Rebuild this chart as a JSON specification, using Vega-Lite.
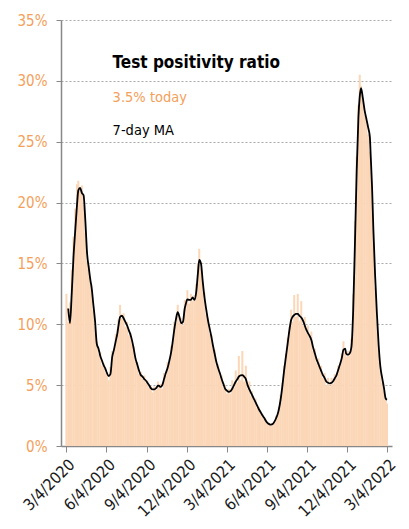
{
  "$schema": "https://vega.github.io/schema/vega-lite/v6.json",
  "width": 331,
  "height": 426,
  "autosize": {"type": "none"},
  "padding": {"top": 20, "left": 61, "right": 17, "bottom": 83},
  "background": "white",
  "config": {
    "view": {"stroke": null},
    "font": "DejaVu Sans Condensed",
    "axis": {"labelFont": "DejaVu Sans Condensed"}
  },
  "data": {"values": [
    {"d":"2020-03-05","v":12.5},
    {"d":"2020-03-09","v":10.2,"m":11.3},
    {"d":"2020-03-13","v":11.8,"m":10.1},
    {"d":"2020-03-17","v":14.5,"m":12.5},
    {"d":"2020-03-21","v":17.2,"m":15.5},
    {"d":"2020-03-25","v":19.5,"m":17.7},
    {"d":"2020-03-29","v":21.5,"m":19.8},
    {"d":"2020-04-01","v":21.8,"m":21.0},
    {"d":"2020-04-05","v":21.2,"m":21.2},
    {"d":"2020-04-09","v":21.4,"m":20.8},
    {"d":"2020-04-13","v":19.8,"m":20.6},
    {"d":"2020-04-17","v":17.5,"m":18.5},
    {"d":"2020-04-21","v":15.2,"m":15.8},
    {"d":"2020-04-25","v":14.8,"m":14.6},
    {"d":"2020-04-29","v":13.2,"m":13.5},
    {"d":"2020-05-01","v":12.5,"m":13.1},
    {"d":"2020-05-05","v":11.2,"m":11.7},
    {"d":"2020-05-09","v":9.8,"m":10.3},
    {"d":"2020-05-13","v":8.6,"m":8.4},
    {"d":"2020-05-17","v":7.6,"m":8.0},
    {"d":"2020-05-21","v":7.7,"m":7.4},
    {"d":"2020-05-25","v":6.6,"m":7.0},
    {"d":"2020-05-29","v":6.8,"m":6.6},
    {"d":"2020-06-01","v":6.0,"m":6.4},
    {"d":"2020-06-05","v":5.9,"m":6.0},
    {"d":"2020-06-09","v":5.4,"m":5.75},
    {"d":"2020-06-13","v":6.5,"m":5.9},
    {"d":"2020-06-17","v":7.8,"m":7.3},
    {"d":"2020-06-21","v":8.0,"m":7.9},
    {"d":"2020-06-25","v":9.2,"m":8.6},
    {"d":"2020-06-29","v":9.6,"m":9.3},
    {"d":"2020-07-01","v":10.4,"m":9.8},
    {"d":"2020-07-05","v":11.6,"m":10.6},
    {"d":"2020-07-09","v":10.5,"m":10.7},
    {"d":"2020-07-13","v":10.9,"m":10.5},
    {"d":"2020-07-17","v":9.8,"m":10.2},
    {"d":"2020-07-21","v":10.2,"m":9.9},
    {"d":"2020-07-25","v":9.1,"m":9.5},
    {"d":"2020-07-29","v":9.3,"m":9.1},
    {"d":"2020-08-01","v":8.4,"m":8.7},
    {"d":"2020-08-05","v":8.2,"m":8.0},
    {"d":"2020-08-09","v":6.9,"m":7.2},
    {"d":"2020-08-13","v":6.9,"m":6.7},
    {"d":"2020-08-17","v":5.9,"m":6.2},
    {"d":"2020-08-21","v":6.1,"m":5.83},
    {"d":"2020-08-25","v":5.5,"m":5.7},
    {"d":"2020-08-29","v":5.8,"m":5.5},
    {"d":"2020-09-01","v":5.2,"m":5.4},
    {"d":"2020-09-05","v":5.4,"m":5.2},
    {"d":"2020-09-09","v":4.8,"m":5.0},
    {"d":"2020-09-13","v":4.9,"m":4.75},
    {"d":"2020-09-17","v":4.4,"m":4.65},
    {"d":"2020-09-21","v":4.9,"m":4.65},
    {"d":"2020-09-25","v":4.6,"m":4.75},
    {"d":"2020-09-29","v":5.3,"m":4.95},
    {"d":"2020-10-01","v":4.8,"m":4.95},
    {"d":"2020-10-05","v":5.1,"m":4.85},
    {"d":"2020-10-09","v":4.7,"m":5.0},
    {"d":"2020-10-13","v":6.0,"m":5.5},
    {"d":"2020-10-17","v":5.8,"m":6.0},
    {"d":"2020-10-21","v":6.9,"m":6.4},
    {"d":"2020-10-25","v":6.8,"m":7.0},
    {"d":"2020-10-29","v":8.2,"m":7.7},
    {"d":"2020-11-01","v":8.3,"m":8.4},
    {"d":"2020-11-05","v":10.2,"m":9.5},
    {"d":"2020-11-09","v":10.1,"m":10.4},
    {"d":"2020-11-13","v":11.6,"m":11.0},
    {"d":"2020-11-17","v":10.2,"m":10.6},
    {"d":"2020-11-21","v":10.5,"m":10.1},
    {"d":"2020-11-25","v":9.9,"m":10.2},
    {"d":"2020-11-29","v":12.0,"m":11.3},
    {"d":"2020-12-01","v":11.2,"m":11.6},
    {"d":"2020-12-05","v":12.8,"m":12.05},
    {"d":"2020-12-09","v":11.7,"m":12.0},
    {"d":"2020-12-13","v":12.5,"m":12.0},
    {"d":"2020-12-17","v":11.9,"m":12.2},
    {"d":"2020-12-21","v":12.4,"m":12.0},
    {"d":"2020-12-25","v":13.3,"m":12.6},
    {"d":"2020-12-29","v":15.0,"m":14.2},
    {"d":"2021-01-01","v":16.2,"m":15.3},
    {"d":"2021-01-05","v":14.6,"m":15.0},
    {"d":"2021-01-09","v":13.2,"m":13.5},
    {"d":"2021-01-13","v":12.6,"m":12.2},
    {"d":"2021-01-17","v":10.8,"m":11.2},
    {"d":"2021-01-21","v":10.5,"m":10.3},
    {"d":"2021-01-25","v":9.2,"m":9.6},
    {"d":"2021-01-29","v":9.1,"m":8.9},
    {"d":"2021-02-01","v":8.0,"m":8.3},
    {"d":"2021-02-05","v":7.9,"m":7.6},
    {"d":"2021-02-09","v":6.6,"m":6.9},
    {"d":"2021-02-13","v":6.7,"m":6.4},
    {"d":"2021-02-17","v":5.7,"m":5.97},
    {"d":"2021-02-21","v":5.8,"m":5.5},
    {"d":"2021-02-25","v":4.8,"m":5.1},
    {"d":"2021-03-01","v":5.0,"m":4.7},
    {"d":"2021-03-05","v":4.3,"m":4.55},
    {"d":"2021-03-09","v":4.7,"m":4.45},
    {"d":"2021-03-13","v":4.3,"m":4.5},
    {"d":"2021-03-17","v":5.4,"m":4.7},
    {"d":"2021-03-21","v":4.8,"m":5.0},
    {"d":"2021-03-25","v":6.2,"m":5.3},
    {"d":"2021-03-29","v":5.2,"m":5.5},
    {"d":"2021-04-01","v":7.4,"m":5.7},
    {"d":"2021-04-05","v":5.4,"m":5.8},
    {"d":"2021-04-09","v":7.8,"m":5.83},
    {"d":"2021-04-13","v":5.3,"m":5.7},
    {"d":"2021-04-17","v":6.6,"m":5.5},
    {"d":"2021-04-21","v":4.7,"m":5.0},
    {"d":"2021-04-25","v":5.3,"m":4.65},
    {"d":"2021-04-29","v":4.1,"m":4.35},
    {"d":"2021-05-01","v":4.5,"m":4.2},
    {"d":"2021-05-05","v":3.7,"m":3.9},
    {"d":"2021-05-09","v":3.9,"m":3.6},
    {"d":"2021-05-13","v":3.1,"m":3.3},
    {"d":"2021-05-17","v":3.2,"m":3.0},
    {"d":"2021-05-21","v":2.6,"m":2.75},
    {"d":"2021-05-25","v":2.6,"m":2.5},
    {"d":"2021-05-29","v":2.2,"m":2.3},
    {"d":"2021-06-01","v":2.2,"m":2.1},
    {"d":"2021-06-05","v":1.8,"m":1.9},
    {"d":"2021-06-09","v":1.9,"m":1.8},
    {"d":"2021-06-13","v":1.7,"m":1.75},
    {"d":"2021-06-17","v":1.9,"m":1.8},
    {"d":"2021-06-21","v":2.0,"m":2.0},
    {"d":"2021-06-25","v":2.5,"m":2.3},
    {"d":"2021-06-29","v":2.8,"m":2.7},
    {"d":"2021-07-01","v":3.2,"m":3.0},
    {"d":"2021-07-05","v":4.2,"m":3.8},
    {"d":"2021-07-09","v":5.2,"m":4.9},
    {"d":"2021-07-13","v":6.6,"m":6.2},
    {"d":"2021-07-17","v":7.6,"m":7.3},
    {"d":"2021-07-21","v":8.9,"m":8.4},
    {"d":"2021-07-25","v":9.8,"m":9.5},
    {"d":"2021-07-29","v":11.2,"m":10.35},
    {"d":"2021-08-01","v":10.2,"m":10.6},
    {"d":"2021-08-05","v":12.4,"m":10.76},
    {"d":"2021-08-09","v":10.6,"m":10.85},
    {"d":"2021-08-13","v":12.5,"m":10.85},
    {"d":"2021-08-17","v":10.3,"m":10.7},
    {"d":"2021-08-21","v":11.9,"m":10.55},
    {"d":"2021-08-25","v":9.9,"m":10.3},
    {"d":"2021-08-29","v":10.6,"m":9.9},
    {"d":"2021-09-01","v":9.3,"m":9.6},
    {"d":"2021-09-05","v":9.9,"m":9.3},
    {"d":"2021-09-09","v":8.8,"m":9.05},
    {"d":"2021-09-13","v":9.4,"m":8.7},
    {"d":"2021-09-17","v":7.8,"m":8.1},
    {"d":"2021-09-21","v":8.0,"m":7.6},
    {"d":"2021-09-25","v":6.8,"m":7.1},
    {"d":"2021-09-29","v":7.2,"m":6.75},
    {"d":"2021-10-01","v":6.3,"m":6.55},
    {"d":"2021-10-05","v":6.6,"m":6.2},
    {"d":"2021-10-09","v":5.6,"m":5.85},
    {"d":"2021-10-13","v":6.0,"m":5.6},
    {"d":"2021-10-17","v":5.0,"m":5.3},
    {"d":"2021-10-21","v":5.6,"m":5.2},
    {"d":"2021-10-25","v":4.9,"m":5.15},
    {"d":"2021-10-29","v":5.6,"m":5.2},
    {"d":"2021-11-01","v":5.1,"m":5.3},
    {"d":"2021-11-05","v":5.9,"m":5.55},
    {"d":"2021-11-09","v":5.6,"m":5.8},
    {"d":"2021-11-13","v":6.6,"m":6.25},
    {"d":"2021-11-17","v":6.5,"m":6.7},
    {"d":"2021-11-21","v":7.6,"m":7.2},
    {"d":"2021-11-25","v":8.6,"m":7.9},
    {"d":"2021-11-29","v":7.7,"m":8.0},
    {"d":"2021-12-01","v":7.3,"m":7.6},
    {"d":"2021-12-05","v":7.8,"m":7.5},
    {"d":"2021-12-09","v":7.4,"m":7.6},
    {"d":"2021-12-13","v":8.8,"m":8.1},
    {"d":"2021-12-17","v":12.5,"m":11.0},
    {"d":"2021-12-21","v":18.5,"m":16.5},
    {"d":"2021-12-25","v":23.8,"m":22.5},
    {"d":"2021-12-29","v":28.0,"m":27.0},
    {"d":"2022-01-01","v":30.5,"m":28.7},
    {"d":"2022-01-04","v":29.6,"m":29.4},
    {"d":"2022-01-08","v":28.4,"m":28.6},
    {"d":"2022-01-12","v":27.2,"m":27.6},
    {"d":"2022-01-16","v":27.0,"m":26.9},
    {"d":"2022-01-20","v":25.6,"m":26.2},
    {"d":"2022-01-24","v":24.2,"m":25.4},
    {"d":"2022-01-26","v":22.6,"m":23.8},
    {"d":"2022-01-29","v":20.2,"m":21.3},
    {"d":"2022-02-01","v":16.8,"m":17.8},
    {"d":"2022-02-05","v":13.0,"m":14.0},
    {"d":"2022-02-09","v":10.2,"m":10.9},
    {"d":"2022-02-13","v":7.6,"m":8.3},
    {"d":"2022-02-17","v":6.2,"m":6.5},
    {"d":"2022-02-21","v":5.2,"m":5.6},
    {"d":"2022-02-25","v":4.5,"m":4.8},
    {"d":"2022-03-01","v":3.8,"m":3.9},
    {"d":"2022-03-04","v":3.5,"m":3.8}
  ]},
  "layer": [
    {
      "mark": {"type": "bar", "width": 2, "color": "#fbd6b7"},
      "encoding": {
        "x": {
          "field": "d", "type": "temporal",
          "scale": {"domain": [{"year": 2020, "month": 3, "date": 4}, {"year": 2022, "month": 3, "date": 4}]},
          "axis": {
            "title": null,
            "values": [
              {"year": 2020, "month": 3, "date": 4},
              {"year": 2020, "month": 6, "date": 4},
              {"year": 2020, "month": 9, "date": 4},
              {"year": 2020, "month": 12, "date": 4},
              {"year": 2021, "month": 3, "date": 4},
              {"year": 2021, "month": 6, "date": 4},
              {"year": 2021, "month": 9, "date": 4},
              {"year": 2021, "month": 12, "date": 4},
              {"year": 2022, "month": 3, "date": 4}
            ],
            "format": "%-m/%-d/%Y",
            "labelAngle": -45,
            "labelFontSize": 16,
            "labelColor": "#1a1a1a",
            "labelPadding": 4,
            "tickColor": "#888888",
            "tickSize": 6,
            "domainColor": "#888888",
            "domainWidth": 1.5,
            "grid": false,
            "labelOverlap": false
          }
        },
        "y": {
          "field": "v", "type": "quantitative",
          "scale": {"domain": [0, 35], "nice": false},
          "axis": {
            "title": null,
            "values": [0, 5, 10, 15, 20, 25, 30, 35],
            "labelExpr": "datum.value + '%'",
            "labelFontSize": 15,
            "labelColor": "#f5a05a",
            "labelPadding": 9,
            "tickColor": "#888888",
            "tickSize": 5,
            "domainColor": "#888888",
            "domainWidth": 1.5,
            "grid": true,
            "gridColor": "#aaaaaa",
            "gridDash": [2, 2],
            "gridWidth": 1
          }
        }
      }
    },
    {
      "mark": {"type": "line", "color": "#000000", "strokeWidth": 1.8, "interpolate": "monotone"},
      "encoding": {
        "x": {"field": "d", "type": "temporal"},
        "y": {"field": "m", "type": "quantitative"}
      }
    },
    {
      "data": {"values": [
        {"d": "2020-06-18", "y": 31.5, "t": "Test positivity ratio"}
      ]},
      "mark": {"type": "text", "align": "left", "baseline": "middle", "fontSize": 17, "fontWeight": "bold", "color": "#000000", "font": "DejaVu Sans Condensed"},
      "encoding": {
        "x": {"field": "d", "type": "temporal"},
        "y": {"field": "y", "type": "quantitative"},
        "text": {"field": "t"}
      }
    },
    {
      "data": {"values": [
        {"d": "2020-06-18", "y": 28.6, "t": "3.5% today"}
      ]},
      "mark": {"type": "text", "align": "left", "baseline": "middle", "fontSize": 14.5, "color": "#f5a05a", "font": "DejaVu Sans Condensed"},
      "encoding": {
        "x": {"field": "d", "type": "temporal"},
        "y": {"field": "y", "type": "quantitative"},
        "text": {"field": "t"}
      }
    },
    {
      "data": {"values": [
        {"d": "2020-06-18", "y": 25.9, "t": "7-day MA"}
      ]},
      "mark": {"type": "text", "align": "left", "baseline": "middle", "fontSize": 14.5, "color": "#000000", "font": "DejaVu Sans Condensed"},
      "encoding": {
        "x": {"field": "d", "type": "temporal"},
        "y": {"field": "y", "type": "quantitative"},
        "text": {"field": "t"}
      }
    }
  ]
}
